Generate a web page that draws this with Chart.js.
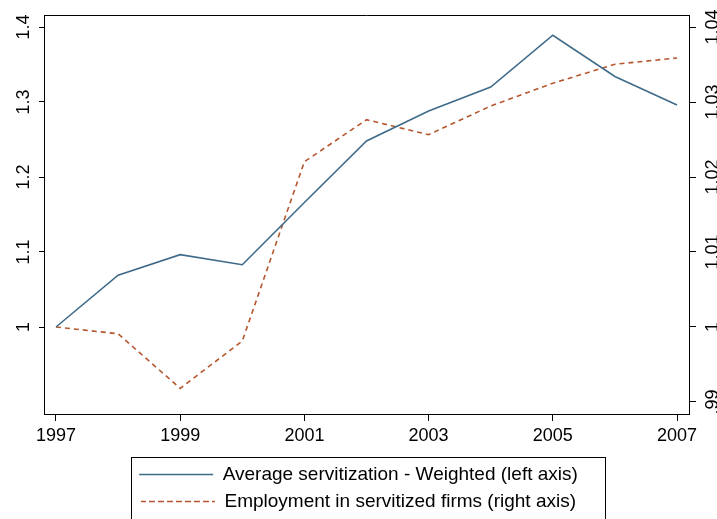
<!DOCTYPE html>
<html>
<head>
<meta charset="utf-8">
<script src="https://cdn.jsdelivr.net/npm/chart.js@4"></script>
<style>
  body { margin: 0; background: #fff; }
  canvas { display: block; }
</style>
</head>
<body>
<canvas id="servChart" width="717" height="519"></canvas>
<script>
const years = [1997, 1998, 1999, 2000, 2001, 2002, 2003, 2004, 2005, 2006, 2007];
const servitization = [1.0, 1.069, 1.0965, 1.083, 1.166, 1.248, 1.288, 1.320, 1.389, 1.334, 1.296];
const employment = [1.0, 0.9991, 0.99182, 0.99813, 1.02204, 1.02764, 1.02564, 1.02947, 1.0325, 1.03503, 1.03587];

const xTicks = [1997, 1999, 2001, 2003, 2005, 2007];
const leftTicks = [1, 1.1, 1.2, 1.3, 1.4];
const leftTickLabels = ['1', '1.1', '1.2', '1.3', '1.4'];
const rightTicks = [0.99, 1, 1.01, 1.02, 1.03, 1.04];
const rightTickLabels = ['.99', '1', '1.01', '1.02', '1.03', '1.04'];

const seriesNames = [
    'Average servitization - Weighted (left axis)',
    'Employment in servitized firms (right axis)'
];

const FONT = 'Liberation Sans, Arial, Helvetica, sans-serif';
const blue = '#3f6b8a';
const orange = '#b5562e';

function toPoints(vals) {
    return years.map((y, i) => ({ x: y, y: vals[i] }));
}

// frame line on top of the plot + box round the legend
const framePlugin = {
    id: 'frame',
    afterDraw(chart) {
        const ctx = chart.ctx;
        const a = chart.chartArea;
        ctx.save();
        ctx.strokeStyle = '#000';
        ctx.lineWidth = 1;
        ctx.beginPath();
        ctx.moveTo(a.left, a.top + 0.5);
        ctx.lineTo(a.right, a.top + 0.5);
        ctx.stroke();

        const boxes = chart.legend.legendHitBoxes;
        if (boxes && boxes.length) {
            const l = Math.min(...boxes.map(b => b.left));
            const r = Math.max(...boxes.map(b => b.left + b.width));
            const t = Math.min(...boxes.map(b => b.top));
            ctx.strokeRect(Math.round(l - 8) + 0.5, Math.round(t - 8.5) + 0.5, Math.round(r - l + 35), chart.height);
        }
        ctx.restore();
    }
};

const ctx = document.getElementById('servChart').getContext('2d');

const servChart = new Chart(ctx, {
    type: 'line',
    data: {
        datasets: [{
            label: seriesNames[0],
            data: toPoints(servitization),
            borderColor: blue,
            backgroundColor: blue,
            borderWidth: 1.6,
            pointRadius: 0,
            tension: 0,
            yAxisID: 'yLeft'
        }, {
            label: seriesNames[1],
            data: toPoints(employment),
            borderColor: orange,
            backgroundColor: orange,
            borderWidth: 1.6,
            borderDash: [5, 4],
            pointRadius: 0,
            tension: 0,
            yAxisID: 'yRight'
        }]
    },
    options: {
        responsive: false,
        animation: false,
        layout: { padding: { top: 15, left: 0, right: 0, bottom: -2 } },
        plugins: {
            tooltip: { enabled: false },
            legend: {
                position: 'bottom',
                fullSize: true,
                labels: {
                    boxWidth: 74,
                    boxHeight: 0,
                    padding: 8,
                    color: '#000',
                    font: { family: FONT, size: 19 }
                }
            }
        },
        scales: {
            x: {
                type: 'linear',
                min: 1996.807,
                max: 2007.193,
                afterBuildTicks: s => { s.ticks = xTicks.map(v => ({ value: v })); },
                afterFit: s => { s.height = 43; s.paddingLeft = 0; s.paddingRight = 0; },
                ticks: {
                    autoSkip: false,
                    maxRotation: 0,
                    color: '#000',
                    padding: 4,
                    font: { family: FONT, size: 18 },
                    callback: v => String(v)
                },
                grid: { drawOnChartArea: false, color: '#000', tickLength: 7 },
                border: { color: '#000', width: 1 }
            },
            yLeft: {
                type: 'linear',
                position: 'left',
                min: 0.884,
                max: 1.416,
                afterBuildTicks: s => { s.ticks = leftTicks.map(v => ({ value: v })); },
                afterFit: s => { s.width = 44; s.paddingTop = 0; s.paddingBottom = 0; },
                ticks: {
                    autoSkip: false,
                    minRotation: 90,
                    maxRotation: 90,
                    crossAlign: 'center',
                    padding: 2,
                    color: '#000',
                    font: { family: FONT, size: 18 },
                    callback: v => leftTickLabels[leftTicks.indexOf(v)]
                },
                grid: { drawOnChartArea: false, color: '#000', tickLength: 5 },
                border: { color: '#000', width: 1 }
            },
            yRight: {
                type: 'linear',
                position: 'right',
                min: 0.9884,
                max: 1.0416,
                afterBuildTicks: s => { s.ticks = rightTicks.map(v => ({ value: v })); },
                afterFit: s => { s.width = 28; s.paddingTop = 0; s.paddingBottom = 0; },
                ticks: {
                    autoSkip: false,
                    minRotation: 90,
                    maxRotation: 90,
                    crossAlign: 'center',
                    padding: 0,
                    color: '#000',
                    font: { family: FONT, size: 18 },
                    callback: v => {
                        const i = rightTicks.findIndex(t => Math.abs(t - v) < 1e-9);
                        return i >= 0 ? rightTickLabels[i] : '';
                    }
                },
                grid: { drawOnChartArea: false, color: '#000', tickLength: 7 },
                border: { color: '#000', width: 1 }
            }
        }
    },
    plugins: [framePlugin]
});
</script>
</body>
</html>
